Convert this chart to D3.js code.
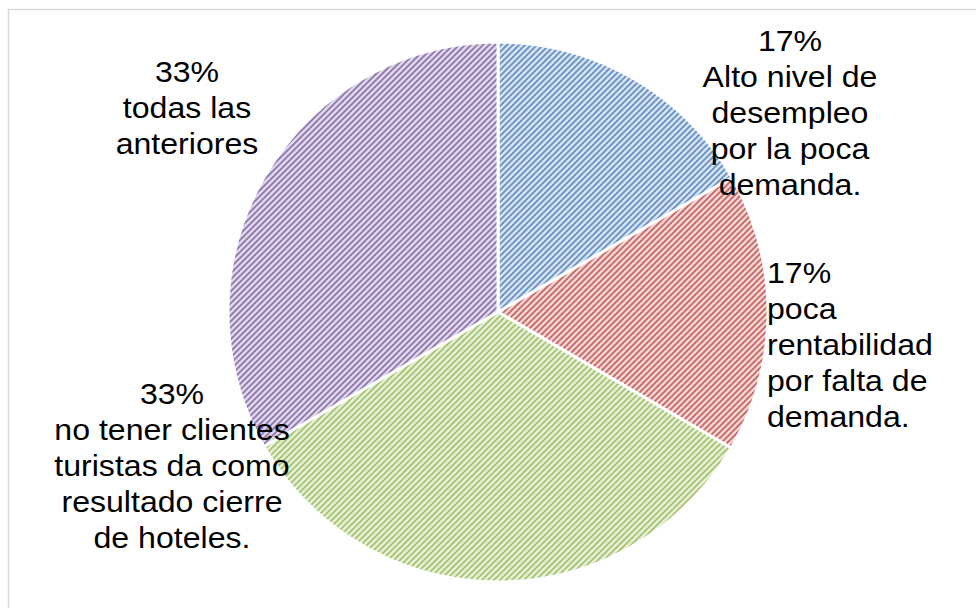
<!DOCTYPE html>
<html>
<head>
<meta charset="utf-8">
<script src="https://cdn.jsdelivr.net/npm/d3@7"></script>
<style>
  html, body { margin: 0; padding: 0; background: #fff; }
  svg { display: block; }
</style>
</head>
<body>
<svg id="chart" width="976" height="608"></svg>
<script>
// ---- data ----
const categories = [
  "Alto nivel de desempleo por la poca demanda.",
  "poca rentabilidad por falta de demanda.",
  "no tener clientes turistas da como resultado cierre de hoteles.",
  "todas las anteriores"
];
const values = [16.7, 16.7, 33.3, 33.3];
const labelLines = [
  ["Alto nivel de", "desempleo", "por la poca", "demanda."],
  ["poca", "rentabilidad", "por falta de", "demanda."],
  ["no tener clientes", "turistas da como", "resultado cierre", "de hoteles."],
  ["todas las", "anteriores"]
];
const baseColors = ["#4F81BD", "#C0504D", "#9BBB59", "#8064A2"];
const lightColors = ["#d5e1f1", "#f2d5d4", "#e6efd8", "#ded6e9"];

// ---- layout ----
const W = 976, H = 608;
const cx = 498, cy = 312, R = 270;
const lineH = 36;
const stretch = 1.07;
const labelLayout = [
  { x: 790, y: 51, anchor: "middle" },
  { x: 767, y: 283, anchor: "start" },
  { x: 172, y: 404, anchor: "middle" },
  { x: 187, y: 82, anchor: "middle" }
];

const svg = d3.select("#chart");

// frame
svg.append("rect")
  .attr("x", 8.5).attr("y", 9.5)
  .attr("width", W + 20).attr("height", H + 20)
  .attr("fill", "#fff")
  .attr("stroke", "#d9d9d9").attr("stroke-width", 1.5);

// hatch patterns
const defs = svg.append("defs");
baseColors.forEach((c, i) => {
  const p = defs.append("pattern")
    .attr("id", "hatch" + i)
    .attr("patternUnits", "userSpaceOnUse")
    .attr("width", 6).attr("height", 6);
  p.append("rect").attr("width", 6).attr("height", 6).attr("fill", lightColors[i]);
  p.append("path")
    .attr("d", "M-1,7 L7,-1 M-4,4 L4,-4 M2,10 L10,2")
    .attr("stroke", c).attr("stroke-width", 1.7)
    .attr("stroke-opacity", 0.85)
    .attr("fill", "none");
});

const pie = d3.pie().sort(null).value(d => d)(values);
const arc = d3.arc().innerRadius(0).outerRadius(R);

const g = svg.append("g").attr("transform", `translate(${cx},${cy})`);
g.selectAll("path.slice")
  .data(pie)
  .enter().append("path")
  .attr("class", "slice")
  .attr("d", arc)
  .attr("fill", (d, i) => `url(#hatch${i})`)
  .attr("stroke", "#fff")
  .attr("stroke-width", 3)
  .attr("stroke-linejoin", "round");

const total = d3.sum(values);
const fmt = v => Math.round(v / total * 100) + "%";

labelLayout.forEach((L, i) => {
  const lines = [fmt(values[i])].concat(labelLines[i]);
  const t = svg.append("text")
    .attr("font-family", "'Liberation Sans', Arial, sans-serif")
    .attr("font-size", 30)
    .attr("fill", "#000")
    .attr("text-anchor", L.anchor)
    .attr("transform", `translate(${L.x},0) scale(${stretch},1) translate(${-L.x},0)`);
  lines.forEach((s, k) => {
    t.append("tspan").attr("x", L.x).attr("y", L.y + k * lineH).text(s);
  });
});
</script>
</body>
</html>
